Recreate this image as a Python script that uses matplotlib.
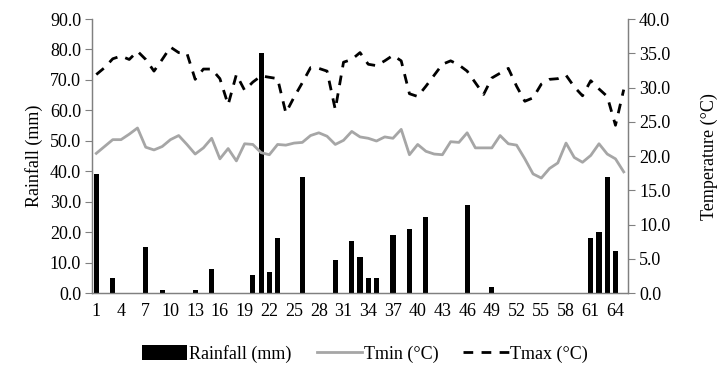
import numpy as np
import matplotlib.pyplot as plt
from matplotlib.patches import Patch
from matplotlib.lines import Line2D

plt.rcParams["font.family"] = ["Liberation Serif", "DejaVu Serif"]

# --- data ------------------------------------------------------------------
days = np.arange(1, 66)

rain_days = [1, 3, 7, 9, 13, 15, 20, 21, 22, 23, 26, 30, 32, 33, 34, 35,
             37, 39, 41, 46, 49, 61, 62, 63, 64]
rain_mm = [39, 5, 15, 1, 1, 8, 6, 79, 7, 18, 38, 11, 17, 12, 5, 5,
           19, 21, 25, 29, 2, 18, 20, 38, 14]

tmin = [20.4, 21.4, 22.4, 22.4, 23.2, 24.1, 21.3, 20.9, 21.4, 22.4,
        23.0, 21.7, 20.3, 21.2, 22.6, 19.6, 21.1, 19.3, 21.8, 21.7,
        20.5, 20.2, 21.7, 21.6, 21.9, 22.0, 23.0, 23.4, 22.9, 21.7,
        22.3, 23.6, 22.8, 22.6, 22.2, 22.8, 22.6, 23.9, 20.2, 21.7,
        20.7, 20.3, 20.2, 22.1, 22.0, 23.4, 21.2, 21.2, 21.2, 23.0,
        21.8, 21.6, 19.6, 17.4, 16.8, 18.2, 19.0, 21.9, 19.8, 19.1,
        20.1, 21.8, 20.3, 19.6, 17.7]

tmax = [31.9, 32.9, 34.2, 34.6, 34.1, 35.3, 34.1, 32.4, 34.1, 35.9,
        35.1, 35.0, 31.2, 32.7, 32.7, 31.3, 27.5, 31.9, 29.6, 30.8,
        31.7, 31.5, 31.3, 26.3, 28.6, 30.7, 32.9, 32.8, 32.4, 26.8,
        33.7, 34.1, 35.1, 33.4, 33.2, 33.9, 34.7, 33.9, 29.1, 28.7,
        30.2, 31.8, 33.4, 33.9, 33.3, 32.4, 30.7, 29.0, 31.4, 32.1,
        32.8, 30.2, 28.0, 28.5, 30.5, 31.2, 31.3, 31.8, 30.1, 28.8,
        31.0, 29.8, 28.7, 24.5, 29.7]

xticks = np.arange(1, 66, 3)

# --- plot --------------------------------------------------------------------
fig = plt.figure(figsize=(7.2, 3.73), dpi=100)
ax = fig.add_axes([0.128, 0.214, 0.744, 0.735])
ax2 = ax.twinx()

ax.bar(rain_days, rain_mm, width=0.62, color="black", zorder=3)
ax2.plot(days, tmin, color="#a6a6a6", lw=2.0)
ax2.plot(days, tmax, color="black", lw=2.0, dashes=(3.5, 3))

ax.set_xlim(0.5, 65.5)
ax.set_ylim(0, 90)
ax2.set_ylim(0, 40)
ax.set_yticks(np.arange(0, 91, 10))
ax.set_yticklabels([f"{v:.1f}" for v in np.arange(0, 91, 10)])
ax2.set_yticks(np.arange(0, 41, 5))
ax2.set_yticklabels([f"{v:.1f}" for v in np.arange(0, 41, 5)])
ax.set_xticks(xticks)
ax.set_xticklabels([str(t) for t in xticks])

for a in (ax, ax2):
    a.spines["top"].set_visible(False)
    for s in ("left", "right", "bottom"):
        a.spines[s].set_color("#808080")
        a.spines[s].set_linewidth(0.9)
    a.tick_params(labelsize=13, colors="black", length=5, color="#808080", pad=3)
ax.tick_params(axis="x", length=0, pad=7)

ax.set_ylabel("Rainfall (mm)", fontsize=13, labelpad=5)
ax2.set_ylabel("Temperature (°C)", fontsize=13, labelpad=22)

handles = [Patch(facecolor="black", label="Rainfall (mm)"),
           Line2D([], [], color="#a6a6a6", lw=2, label="Tmin (°C)"),
           Line2D([], [], color="black", lw=2, dashes=(3.5, 3), label="Tmax (°C)")]
fig.legend(handles=handles, loc="center", bbox_to_anchor=(0.507, 0.051), ncol=3,
           frameon=False, fontsize=13, handlelength=2.5, handletextpad=0.1,
           columnspacing=1.4, handleheight=0.9)

fig.savefig("out.png", dpi=100)
